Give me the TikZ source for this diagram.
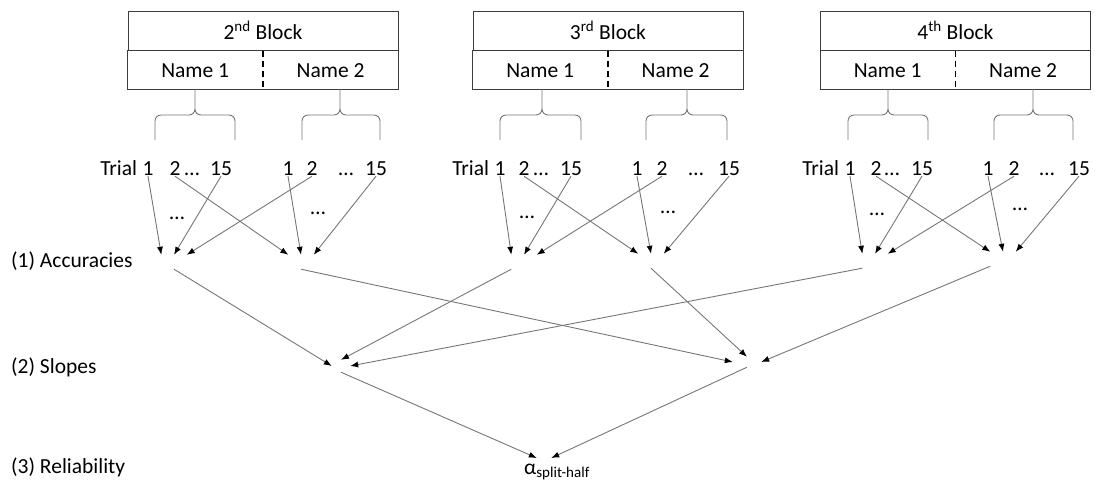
\documentclass[tikz,border=0pt]{standalone}
\usepackage{fontspec}
\setmainfont{Carlito}
\usetikzlibrary{positioning,arrows.meta}
\definecolor{linegray}{RGB}{118,118,118}
\definecolor{boxline}{RGB}{60,60,60}
\tikzstyle{blockhead} = [rectangle, draw=boxline, line width=1pt,
    minimum width=270pt, minimum height=39pt, inner sep=0pt]
\tikzstyle{namecell} = [rectangle, minimum width=135pt, minimum height=39pt, inner sep=0pt]
\tikzstyle{cellbox} = [draw=boxline, line width=1pt]
\tikzstyle{divider} = [draw=black, line width=1.6pt, dash pattern=on 6pt off 4pt]
\tikzstyle{trial} = [inner sep=1pt, text height=14pt, text depth=0pt]
\tikzstyle{hub} = [rectangle, minimum width=25pt, minimum height=14pt, inner sep=0pt]
\tikzstyle{rowlabel} = [anchor=west, inner sep=0pt]
\tikzstyle{line} = [draw=linegray, line width=0.9pt, -{Latex[black,length=8pt,width=6pt]}]
\tikzstyle{brace} = [draw=linegray, line width=0.9pt, rounded corners=6pt]
\newcommand{\trialbrace}[3]{\draw [brace] (#1,140) |- (#2,115) -- (#2,89) (#3,140) |- (#2,115) -- (#2,89);}

\begin{document}
\begin{tikzpicture}[x=1pt, y=-1pt, font=\fontsize{21.5}{25}\selectfont]
    \useasboundingbox (0,0) rectangle (1095,480);
    % Place nodes
    % 2nd block
    \node [blockhead] (b2) at (263,30.5) {2\textsuperscript{nd} Block};
    \node [namecell, below right=0pt of b2.south west] (b2n1) {Name 1};
    \node [namecell, right=0pt of b2n1] (b2n2) {Name 2};
    \draw [cellbox] (b2n1.north west) rectangle (b2n2.south east);
    \draw [divider] (b2n1.north east) -- (b2n1.south east);
    \trialbrace{155}{195}{235}
    \trialbrace{302}{340}{380}
    \node [trial] (b2x1) at (148,168) {1};
    \node [trial, left=3pt of b2x1] (b2trial) {Trial};
    \node [trial] (b2x2) at (175,168) {2};
    \node [trial] (b2xd) at (192,168) {…};
    \node [trial] (b2x15) at (221,168) {15};
    \node [trial] (b2y1) at (288,168) {1};
    \node [trial] (b2y2) at (312,168) {2};
    \node [trial] (b2yd) at (346,168) {…};
    \node [trial] (b2y15) at (376,168) {15};
    \node [trial] (b2xm) at (177,212) {…};
    \node [trial] (b2ym) at (318,207) {…};
    % 3rd block
    \node [blockhead] (b3) at (608,30.5) {3\textsuperscript{rd} Block};
    \node [namecell, below right=0pt of b3.south west] (b3n1) {Name 1};
    \node [namecell, right=0pt of b3n1] (b3n2) {Name 2};
    \draw [cellbox] (b3n1.north west) rectangle (b3n2.south east);
    \draw [divider] (b3n1.north east) -- (b3n1.south east);
    \trialbrace{500}{542}{581}
    \trialbrace{646}{687}{727}
    \node [trial] (b3x1) at (500,168) {1};
    \node [trial, left=3pt of b3x1] (b3trial) {Trial};
    \node [trial] (b3x2) at (524,168) {2};
    \node [trial] (b3xd) at (541,168) {…};
    \node [trial] (b3x15) at (571,168) {15};
    \node [trial] (b3y1) at (637,168) {1};
    \node [trial] (b3y2) at (662,168) {2};
    \node [trial] (b3yd) at (696,168) {…};
    \node [trial] (b3y15) at (729,168) {15};
    \node [trial] (b3xm) at (527,211) {…};
    \node [trial] (b3ym) at (668,206) {…};
    % 4th block
    \node [blockhead] (b4) at (955.5,30.5) {4\textsuperscript{th} Block};
    \node [namecell, below right=0pt of b4.south west] (b4n1) {Name 1};
    \node [namecell, right=0pt of b4n1] (b4n2) {Name 2};
    \draw [cellbox] (b4n1.north west) rectangle (b4n2.south east);
    \draw [divider] (b4n1.north east) -- (b4n1.south east);
    \trialbrace{848}{888}{928}
    \trialbrace{994}{1033}{1073}
    \node [trial] (b4x1) at (850,168) {1};
    \node [trial, left=3pt of b4x1] (b4trial) {Trial};
    \node [trial] (b4x2) at (876,168) {2};
    \node [trial] (b4xd) at (892,168) {…};
    \node [trial] (b4x15) at (922,168) {15};
    \node [trial] (b4y1) at (988,168) {1};
    \node [trial] (b4y2) at (1014,168) {2};
    \node [trial] (b4yd) at (1047,168) {…};
    \node [trial] (b4y15) at (1079,168) {15};
    \node [trial] (b4xm) at (877,208) {…};
    \node [trial] (b4ym) at (1020,203) {…};
    % accuracies, slopes, reliability
    \node [hub] (acc1) at (174,262) {};
    \node [hub] (acc2) at (301,262) {};
    \node [hub] (acc3) at (524,262) {};
    \node [hub] (acc4) at (651,261) {};
    \node [hub] (acc5) at (875,261) {};
    \node [hub] (acc6) at (1003,259) {};
    \node [hub, minimum width=18pt, minimum height=12pt] (slope1) at (341,366) {};
    \node [hub, minimum width=28pt, minimum height=10pt] (slope2) at (747,362) {};
    \node [hub, minimum width=14pt, minimum height=2pt] (rel) at (544,458) {};
    \node [inner sep=0pt] (alpha) at (557,472) {α\textsubscript{split-half}};
    \node [rowlabel] (lacc) at (11,261) {(1) Accuracies};
    \node [rowlabel] (lslope) at (11,367) {(2) Slopes};
    \node [rowlabel] (lrel) at (11,467) {(3) Reliability};
    % Draw edges
    \path [line] (b2x1.south) -- (acc1.north west);
    \path [line] (b2x15.south) -- (acc1.north);
    \path [line] (b2y2.south) -- (acc1.north east);
    \path [line] (b2x2.south) -- (acc2.north west);
    \path [line] (b2y1.south) -- (acc2.north);
    \path [line] (b2y15.south) -- (acc2.north east);
    \path [line] (b3x1.south) -- (acc3.north west);
    \path [line] (b3x15.south) -- (acc3.north);
    \path [line] (b3y2.south) -- (acc3.north east);
    \path [line] (b3x2.south) -- (acc4.north west);
    \path [line] (b3y1.south) -- (acc4.north);
    \path [line] (b3y15.south) -- (acc4.north east);
    \path [line] (b4x1.south) -- (acc5.north west);
    \path [line] (b4x15.south) -- (acc5.north);
    \path [line] (b4y2.south) -- (acc5.north east);
    \path [line] (b4x2.south) -- (acc6.north west);
    \path [line] (b4y1.south) -- (acc6.north);
    \path [line] (b4y15.south) -- (acc6.north east);
    \path [line] (acc1.south) -- (slope1.west);
    \path [line] (acc3.south west) -- (slope1.north);
    \path [line] (acc5.south west) -- (slope1.east);
    \path [line] (acc2.south) -- (slope2.west);
    \path [line] (acc4.south) -- (slope2.north);
    \path [line] (acc6.south west) -- (slope2.east);
    \path [line] (slope1.south) -- (rel.west);
    \path [line] (slope2.south) -- (rel.east);
\end{tikzpicture}
\end{document}
